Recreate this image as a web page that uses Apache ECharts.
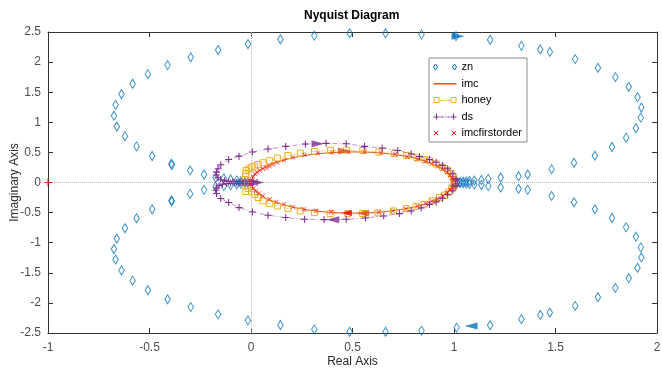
<!DOCTYPE html>
<html>
<head>
<meta charset="utf-8">
<script src="https://cdn.jsdelivr.net/npm/echarts@6/dist/echarts.min.js"></script>
<style>
  html, body { margin: 0; padding: 0; background: #fff; }
  #chart { width: 662px; height: 372px; }
</style>
</head>
<body>
<div id="chart"></div>
<script>
// axis ticks
const xTicks = [-1, -0.5, 0, 0.5, 1, 1.5, 2];
const yTicks = [-2.5, -2, -1.5, -1, -0.5, 0, 0.5, 1, 1.5, 2, 2.5];

// zn : hollow diamonds, upper half then lower half
const znUpper = [
  [1.000,0.003],[1.015,0.006],[1.030,0.010],[1.045,0.015],[1.060,0.020],[1.076,0.025],[1.100,0.032],
  [1.135,0.042],[1.169,0.060],[1.230,0.083],[1.318,0.105],[1.363,0.133],[1.481,0.222],[1.591,0.328],
  [1.694,0.445],[1.778,0.590],[1.848,0.745],[1.896,0.900],[1.920,1.078],[1.923,1.245],[1.904,1.417],
  [1.861,1.590],[1.795,1.750],[1.709,1.905],[1.597,2.050],[1.472,2.170],[1.425,2.210],[1.332,2.270],
  [1.178,2.370],[1.010,2.430],[0.840,2.460],[0.663,2.480],[0.486,2.480],[0.312,2.440],[0.145,2.380],
  [-0.015,2.300],[-0.162,2.200],[-0.297,2.080],[-0.411,1.950],[-0.508,1.800],[-0.583,1.640],
  [-0.638,1.470],[-0.667,1.290],[-0.675,1.110],[-0.661,0.930],[-0.621,0.770],[-0.564,0.600],
  [-0.487,0.440],[-0.392,0.311],[-0.390,0.289],[-0.300,0.200],[-0.231,0.133],[-0.174,0.078],
  [-0.134,0.070],[-0.100,0.050],[-0.070,0.035],[-0.050,0.020],[-0.030,0.010],[-0.015,0.005]
];
const znLower = [
  [1.000,-0.003],[1.015,-0.006],[1.030,-0.010],[1.045,-0.015],[1.060,-0.020],[1.076,-0.025],[1.100,-0.032],
  [1.135,-0.042],[1.169,-0.060],[1.230,-0.083],[1.318,-0.105],[1.363,-0.122],[1.481,-0.222],[1.591,-0.328],
  [1.694,-0.445],[1.778,-0.590],[1.848,-0.745],[1.896,-0.900],[1.920,-1.078],[1.923,-1.245],[1.904,-1.417],
  [1.861,-1.590],[1.795,-1.750],[1.709,-1.905],[1.597,-2.050],[1.472,-2.160],[1.425,-2.200],[1.332,-2.270],
  [1.178,-2.370],[1.013,-2.410],[0.840,-2.460],[0.663,-2.480],[0.486,-2.480],[0.312,-2.440],[0.145,-2.367],
  [-0.015,-2.290],[-0.162,-2.190],[-0.297,-2.070],[-0.411,-1.940],[-0.508,-1.790],[-0.583,-1.630],
  [-0.638,-1.460],[-0.667,-1.280],[-0.675,-1.105],[-0.661,-0.930],[-0.621,-0.760],[-0.564,-0.595],
  [-0.487,-0.445],[-0.392,-0.300],[-0.390,-0.311],[-0.300,-0.189],[-0.231,-0.122],[-0.174,-0.067],
  [-0.134,-0.060],[-0.100,-0.045],[-0.070,-0.030],[-0.050,-0.018],[-0.030,-0.010],[-0.015,-0.005]
];

// imc : solid line
const imcData = [
  [0.000,0.000],[0.005,0.070],[0.020,0.140],[0.045,0.210],[0.090,0.290],[0.150,0.360],[0.220,0.420],
  [0.300,0.465],[0.400,0.497],[0.500,0.508],[0.600,0.500],[0.700,0.468],[0.800,0.410],[0.870,0.340],
  [0.930,0.250],[0.970,0.160],[0.990,0.080],[1.000,0.000],[0.990,-0.080],[0.970,-0.160],[0.930,-0.250],
  [0.870,-0.340],[0.800,-0.410],[0.700,-0.468],[0.600,-0.500],[0.500,-0.508],[0.400,-0.497],[0.300,-0.465],
  [0.220,-0.420],[0.150,-0.360],[0.090,-0.290],[0.045,-0.210],[0.020,-0.140],[0.005,-0.070],[0.000,0.000]
];

// honey : squares with dash-dot line
const honeyData = [
  [-0.030,0.000],[-0.030,0.050],[-0.028,0.100],[-0.025,0.150],[-0.023,0.200],[-0.010,0.228],[0.002,0.255],
  [0.018,0.272],[0.035,0.300],[0.059,0.328],[0.092,0.362],[0.130,0.405],[0.182,0.450],[0.243,0.488],
  [0.313,0.517],[0.392,0.533],[0.470,0.538],[0.551,0.533],[0.630,0.505],[0.707,0.478],[0.767,0.450],
  [0.817,0.410],[0.854,0.383],[0.879,0.367],[0.912,0.310],[0.944,0.255],[0.969,0.200],[0.985,0.150],
  [0.995,0.100],[1.000,0.050],[1.003,0.000],[1.000,-0.050],[0.990,-0.100],[0.975,-0.160],[0.953,-0.210],
  [0.928,-0.250],[0.892,-0.305],[0.854,-0.362],[0.813,-0.395],[0.764,-0.433],[0.702,-0.472],[0.625,-0.505],
  [0.550,-0.515],[0.477,-0.517],[0.390,-0.517],[0.313,-0.500],[0.243,-0.472],[0.182,-0.433],[0.130,-0.390],
  [0.092,-0.350],[0.059,-0.305],[0.035,-0.250],[0.018,-0.200],[0.002,-0.155],[-0.015,-0.100],
  [-0.025,-0.150],[-0.030,-0.050],[-0.030,0.000]
];

// ds : plus markers with dash-dot line
const dsData = [
  [0.030,0.000],[0.010,0.010],[-0.010,0.005],[-0.030,0.000],[-0.050,0.010],[-0.070,0.000],[-0.090,0.012],
  [-0.110,0.018],[-0.130,0.028],[-0.150,0.045],[-0.163,0.080],[-0.172,0.125],[-0.170,0.172],[-0.162,0.228],
  [-0.149,0.295],[-0.110,0.383],[-0.059,0.438],[0.007,0.505],[0.084,0.555],[0.171,0.600],[0.268,0.638],
  [0.370,0.650],[0.469,0.645],[0.559,0.600],[0.646,0.572],[0.723,0.533],[0.789,0.478],[0.830,0.433],
  [0.879,0.383],[0.912,0.338],[0.944,0.283],[0.969,0.228],[0.994,0.145],[1.010,0.060],[1.018,0.000],
  [1.010,-0.060],[0.994,-0.128],[0.969,-0.200],[0.944,-0.267],[0.912,-0.322],[0.879,-0.367],[0.838,-0.422],
  [0.789,-0.472],[0.731,-0.517],[0.654,-0.555],[0.564,-0.589],[0.469,-0.611],[0.360,-0.617],[0.264,-0.611],
  [0.171,-0.583],[0.084,-0.544],[0.007,-0.489],[-0.059,-0.417],[-0.110,-0.333],[-0.149,-0.267],
  [-0.170,-0.183],[-0.174,-0.130],[-0.170,-0.090],[-0.158,-0.050],[-0.140,-0.030],[-0.120,-0.018],
  [-0.100,-0.010],[-0.080,-0.005],[-0.060,-0.010],[-0.040,-0.004],[-0.020,-0.008],[0.000,-0.004]
];

// imcfirstorder : red x markers only
const imcFirstData = [
  [0.000,0.020],[0.003,0.060],[0.010,0.100],[0.020,0.145],[0.030,0.170],[0.043,0.200],[0.060,0.225],
  [0.076,0.245],[0.090,0.270],[0.108,0.300],[0.130,0.330],[0.162,0.370],[0.207,0.418],[0.264,0.458],
  [0.330,0.485],[0.400,0.500],[0.480,0.510],[0.560,0.508],[0.640,0.495],[0.710,0.470],[0.770,0.430],
  [0.820,0.390],[0.860,0.350],[0.890,0.310],[0.920,0.270],[0.945,0.220],[0.965,0.170],[0.980,0.120],
  [0.990,0.070],[0.997,0.030],[0.997,-0.030],[0.990,-0.070],[0.980,-0.120],[0.965,-0.170],[0.945,-0.220],
  [0.920,-0.270],[0.890,-0.310],[0.860,-0.350],[0.820,-0.390],[0.764,-0.440],[0.699,-0.472],[0.630,-0.495],
  [0.560,-0.505],[0.477,-0.505],[0.396,-0.489],[0.322,-0.472],[0.261,-0.445],[0.207,-0.405],[0.162,-0.360],
  [0.125,-0.322],[0.092,-0.278],[0.059,-0.222],[0.040,-0.180],[0.025,-0.140],[0.012,-0.100],
  [0.004,-0.060],[0.000,-0.020]
];

// direction arrows: [x, y, dir]  dir 1 = pointing right, -1 = pointing left
const znArrows = [[1.020,2.430,1],[1.084,-2.383,-1]];
const znOriginArrows = [[-0.055,0.000,1]];
const imcArrows = [[0.460,0.525,1],[0.550,-0.510,-1]];
const imcFirstArrows = [[0.470,-0.507,-1]];
const dsArrows = [[0.330,0.645,1],[0.403,-0.617,-1],[0.033,0.000,1]];

const critical = [[-1, 0]];

const C_ZN = '#0072BD', C_IMC = '#D95319', C_HONEY = '#EDB120', C_DS = '#7E2F8E', C_RED = '#FF0000';
const FONT = '"Liberation Sans", Arial, Helvetica, sans-serif';
const PLUS = 'path://M3.4,0H4.6V3.4H8V4.6H4.6V8H3.4V4.6H0V3.4H3.4Z';
const CLEAR = 'rgba(255,255,255,0)';

function arrowSeries(list, color, size) {
  return {
    type: 'scatter',
    symbol: 'triangle',
    symbolSize: size,
    itemStyle: { color: color },
    silent: true,
    z: 5,
    data: list.map(a => ({ value: [a[0], a[1]], symbolRotate: a[2] > 0 ? -90 : 90 }))
  };
}

function legendItem(name, icon, stroke, fill) {
  return {
    name: name,
    icon: icon,
    itemStyle: { color: fill || CLEAR, borderColor: fill ? CLEAR : stroke, borderWidth: fill ? 0 : 1, opacity: 1 }
  };
}

const axisCommon = {
  type: 'value',
  interval: 0.5,
  axisLine: { show: true, onZero: false, lineStyle: { color: '#333', width: 1 } },
  axisTick: { show: true, inside: true, length: 5, lineStyle: { color: '#333' } },
  splitLine: { show: false }
};

const chart = echarts.init(document.getElementById('chart'));
chart.setOption({
  backgroundColor: '#fff',
  animation: false,
  title: {
    text: 'Nyquist Diagram',
    left: 304,
    top: 10,
    padding: 0,
    textStyle: { fontFamily: FONT, fontSize: 12, fontWeight: 'bold', color: '#000' }
  },
  legend: {
    orient: 'vertical',
    left: 429,
    top: 58,
    padding: [3, 5, 3, 4],
    itemGap: 4.5,
    itemWidth: 23,
    itemHeight: 6,
    symbolRotate: 0,
    backgroundColor: '#fff',
    borderColor: '#8c8c8c',
    borderWidth: 1,
    borderRadius: 0,
    textStyle: { fontFamily: FONT, fontSize: 11, color: '#000', lineHeight: 12 },
    data: [
      legendItem('zn', 'path://M2,0L4,3L2,6L0,3Z M21,0L23,3L21,6L19,3Z', C_ZN),
      legendItem('imc', 'path://M0,0L0,0M23,6L23,6M0,2.5H23V4H0Z', C_IMC, C_IMC),
      legendItem('honey', 'path://M0.5,0.5H5.5V5.5H0.5Z M17.5,0.5H22.5V5.5H17.5Z M0,0L0,0 M23,6L23,6 M6.5,3.5H9.5 M11,3.5H12 M13.5,3.5H17', C_HONEY),
      legendItem('ds', 'path://M0,3.5H6M3,0V6 M17,3.5H23M20,0V6 M7,3.5H10 M11.5,3.5H12.3 M13.8,3.5H16', C_DS),
      legendItem('imcfirstorder', 'path://M0.5,0.8L4.7,5.2M0.5,5.2L4.7,0.8 M18.3,0.8L22.5,5.2M18.3,5.2L22.5,0.8 M0,0L0,0M23,6L23,6', C_RED)
    ]
  },
  grid: { left: 48, right: 5, top: 32, bottom: 39, outerBoundsMode: 'none', containLabel: false },
  xAxis: [
    Object.assign({}, axisCommon, {
      position: 'bottom', min: xTicks[0], max: xTicks[xTicks.length - 1],
      name: 'Real Axis', nameLocation: 'middle', nameGap: 23, nameMoveOverlap: false,
      nameTextStyle: { fontFamily: FONT, fontSize: 12, color: '#262626' },
      axisLabel: { margin: 9, fontFamily: FONT, fontSize: 12, color: '#4d4d4d' }
    }),
    Object.assign({}, axisCommon, {
      position: 'top', min: xTicks[0], max: xTicks[xTicks.length - 1],
      axisLabel: { show: false }
    })
  ],
  yAxis: [
    Object.assign({}, axisCommon, {
      position: 'left', min: yTicks[0], max: yTicks[yTicks.length - 1],
      name: 'Imaginary Axis', nameLocation: 'middle', nameGap: 27, nameMoveOverlap: false,
      nameTextStyle: { fontFamily: FONT, fontSize: 12, color: '#262626' },
      axisLabel: { margin: 7, fontFamily: FONT, fontSize: 12, color: '#4d4d4d' }
    }),
    Object.assign({}, axisCommon, {
      position: 'right', min: yTicks[0], max: yTicks[yTicks.length - 1],
      axisLabel: { show: false }
    })
  ],
  series: [
    {
      name: 'zn',
      type: 'scatter',
      symbol: 'diamond',
      symbolSize: [5.5, 9],
      itemStyle: { color: CLEAR, borderColor: C_ZN, borderWidth: 1 },
      data: znUpper.concat(znLower),
      markLine: {
        silent: true,
        symbol: 'none',
        label: { show: false },
        lineStyle: { color: '#b8b8b8', type: 'dotted', width: 1 },
        data: [{ xAxis: 0 }, { yAxis: 0 }]
      },
      z: 2
    },
    {
      name: 'imc',
      type: 'line',
      symbol: 'none',
      smooth: 0.3,
      lineStyle: { color: C_IMC, width: 1 },
      itemStyle: { color: C_IMC },
      data: imcData,
      z: 3
    },
    {
      name: 'honey',
      type: 'line',
      symbol: 'rect',
      symbolSize: 6,
      showAllSymbol: true,
      lineStyle: { color: C_HONEY, width: 1, opacity: 0.45, type: [5, 2, 1, 2] },
      itemStyle: { color: CLEAR, borderColor: C_HONEY, borderWidth: 1 },
      data: honeyData,
      z: 3
    },
    {
      name: 'ds',
      type: 'line',
      symbol: PLUS,
      symbolSize: 7,
      showAllSymbol: true,
      lineStyle: { color: C_DS, width: 1, opacity: 0.5, type: [5, 2, 1, 2] },
      itemStyle: { color: C_DS },
      data: dsData,
      z: 4
    },
    {
      name: 'imcfirstorder',
      type: 'scatter',
      symbol: PLUS,
      symbolSize: 6,
      symbolRotate: 45,
      itemStyle: { color: C_RED, opacity: 0.6 },
      data: imcFirstData,
      z: 4
    },
    arrowSeries(znArrows, C_ZN, [7, 13]),
    arrowSeries(znOriginArrows, C_ZN, [5, 8]),
    arrowSeries(imcFirstArrows, C_RED, [6, 11]),
    arrowSeries(imcArrows, C_IMC, [7, 13]),
    arrowSeries(dsArrows, C_DS, [7, 13]),
    {
      type: 'scatter',
      symbol: PLUS,
      symbolSize: 8,
      clip: false,
      itemStyle: { color: C_RED },
      data: critical,
      z: 6
    }
  ]
});
</script>
</body>
</html>
